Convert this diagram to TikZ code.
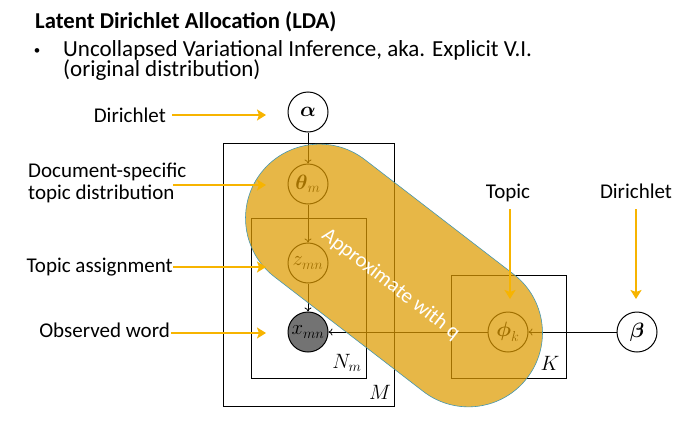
\documentclass[tikz,border=0pt]{standalone}
\usepackage{amsmath}
\usepackage{fontspec}
\setmainfont{Carlito}
\usetikzlibrary{arrows.meta}
\definecolor{gold}{RGB}{247,180,0}
\definecolor{blobfill}{RGB}{222,155,0}
\definecolor{blobline}{RGB}{70,150,175}
\definecolor{obsgray}{RGB}{115,115,115}
\begin{document}
\begin{tikzpicture}[x=1pt,y=-1pt,
  var/.style={circle, draw, line width=1pt, minimum size=40pt, inner sep=0pt, font=\fontsize{22}{26}\selectfont},
  obs/.style={var, fill=obsgray},
  plate/.style={draw, line width=1pt},
  platelab/.style={font=\fontsize{20}{24}\selectfont, inner sep=0pt},
  edge/.style={-{To[length=4pt,width=7pt]}, line width=0.8pt},
  lab/.style={font=\fontsize{21}{22}\selectfont, inner sep=0pt},
  goldarrow/.style={draw=gold, line width=2.2pt, -{Stealth[length=9pt,width=11pt,inset=2pt]}}
]
\useasboundingbox (0,0) rectangle (698,423);

% title and bullet
\node[anchor=base west, inner sep=0pt, font=\fontsize{22.7}{26}\selectfont\bfseries] (title) at (35,28.5) {Latent Dirichlet Allocation (LDA)};
\node[inner sep=0pt, font=\fontsize{13}{15}\selectfont] (bul) at (37,52) {•};
\node[anchor=base west, inner sep=0pt, font=\fontsize{23}{20}\selectfont] (btxt1) at (63,56) {Uncollapsed Variational Inference, aka. Explicit V.I.};
\node[anchor=base west, inner sep=0pt, font=\fontsize{23}{20}\selectfont] (btxt2) at (63,76) {(original distribution)};

% plates
\draw[plate] (223,143) rectangle (394,406);
\draw[plate] (251,218) rectangle (366,378);
\draw[plate] (451,275) rectangle (566,378);
\node[platelab] (lM) at (380,392) {$M$};
\node[platelab] (lN) at (347,363) {$N_m$};
\node[platelab] (lK) at (550,363) {$K$};

% variables
\node[var] (alpha) at (308,112) {$\boldsymbol{\alpha}$};
\node[var] (theta) at (308,184) {$\boldsymbol{\theta}_m$};
\node[var] (z) at (308,263) {$z_{mn}$};
\node[obs] (x) at (308,332) {$x_{mn}$};
\node[var] (phi) at (508,332) {$\boldsymbol{\phi}_k$};
\node[var] (beta) at (637,332) {$\boldsymbol{\beta}$};

\draw[edge] (alpha) -- (theta);
\draw[edge] (theta) -- (z);
\draw[edge] (z) -- (x);
\draw[edge] (beta) -- (phi);
\draw[edge] (phi) -- (x);

% blob
\begin{scope}[shift={(394,275.5)}, rotate=-37.6]
\filldraw[fill=blobfill, fill opacity=0.72, draw=blobline, line width=0.6pt, rounded corners=74pt]
  (-168,-74) rectangle (168,74);
\node[text=white, font=\fontsize{21}{24}\selectfont, inner sep=0pt, rotate=-37.6] (approx) at (3,9) {Approximate with q};
\end{scope}

% labels
\node[lab, anchor=base east] (ldir) at (166,122) {Dirichlet};
\node[lab, anchor=base west] (ldoc1) at (28,177) {Document-specific};
\node[lab, anchor=base west] (ldoc2) at (28,199) {topic distribution};
\node[lab, anchor=base east] (lassign) at (173,272) {Topic assignment};
\node[lab, anchor=base east] (lobs) at (170,337) {Observed word};
\node[lab, anchor=base] (ltopic) at (508,198) {Topic};
\node[lab, anchor=base] (ldir2) at (636,198) {Dirichlet};

\coordinate (s1) at (172,115);
\coordinate (s2) at (173,185);
\coordinate (s3) at (173,267);
\coordinate (s4) at (171,333);
\coordinate (s5) at (510,209);
\coordinate (s6) at (636,209);
\coordinate (e1) at (266,115);
\coordinate (e2) at (266,185);
\coordinate (e3) at (266,267);
\coordinate (e4) at (266,333);
\coordinate (e5) at (510,299);
\coordinate (e6) at (636,299);

\draw[goldarrow] (s1) -- (e1);
\draw[goldarrow] (s2) -- (e2);
\draw[goldarrow] (s3) -- (e3);
\draw[goldarrow] (s4) -- (e4);
\draw[goldarrow] (s5) -- (e5);
\draw[goldarrow] (s6) -- (e6);
\end{tikzpicture}
\end{document}
